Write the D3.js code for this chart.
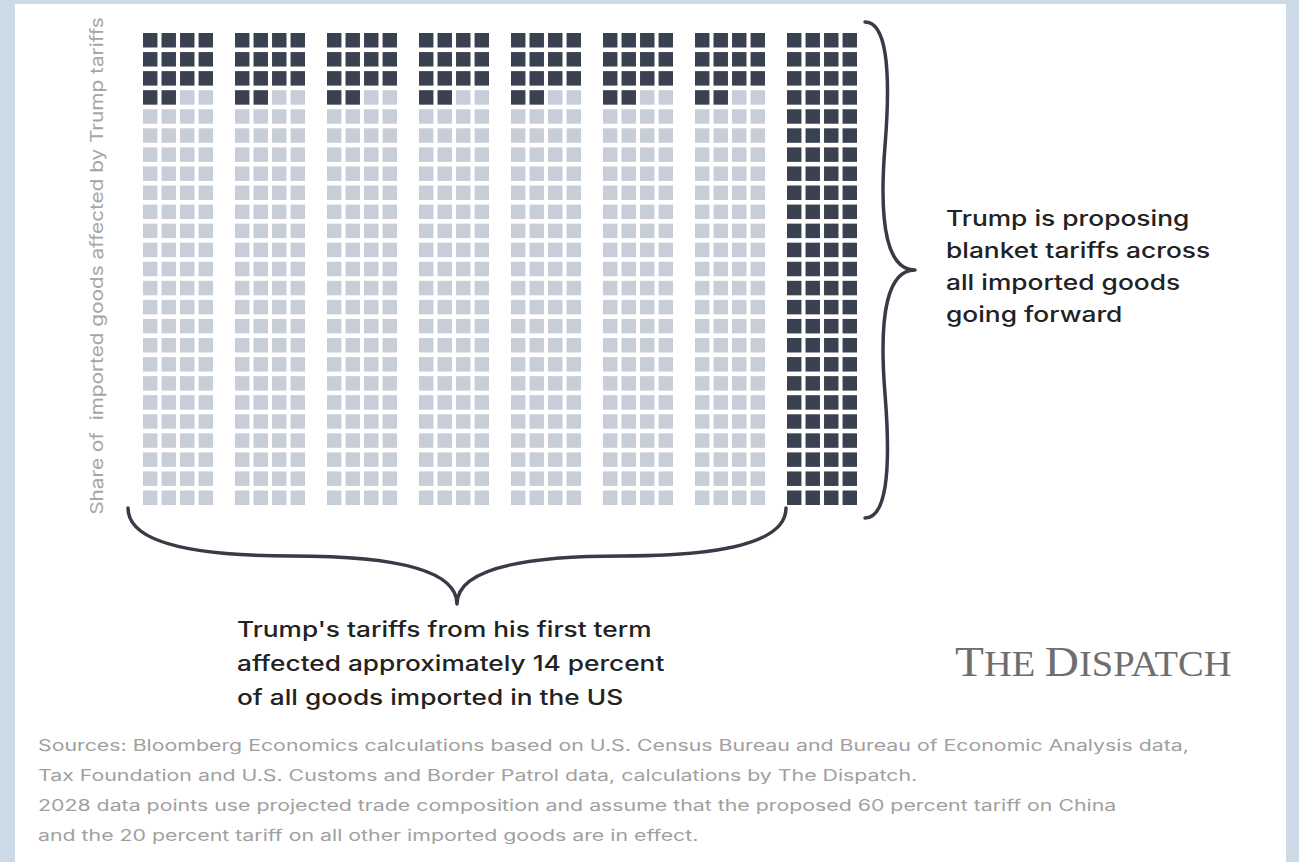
<!DOCTYPE html>
<html>
<head>
<meta charset="utf-8">
<script src="https://cdn.jsdelivr.net/npm/d3@7"></script>
<style>
  html, body { margin: 0; padding: 0; background: #cbdae6; }
  svg { display: block; }
</style>
</head>
<body>
<svg id="chart" width="1299" height="862"></svg>
<script>
// ---- data ----
const categories = ["2018", "2019", "2020", "2021", "2022", "2023", "2024", "2028"];
const affectedShare = [14, 14, 14, 14, 14, 14, 14, 100]; // percent of imported goods
const gridCols = 4;
const gridRows = 25;
const yLabel = "Share of  imported goods affected by Trump tariffs";
const rightNote = ["Trump is proposing", "blanket tariffs across", "all imported goods", "going forward"];
const bottomNote = ["Trump's tariffs from his first term", "affected approximately 14 percent", "of all goods imported in the US"];
const sourceLines = [
  "Sources: Bloomberg Economics calculations based on U.S. Census Bureau and Bureau of Economic Analysis data,",
  "Tax Foundation and U.S. Customs and Border Patrol data, calculations by The Dispatch.",
  "2028 data points use projected trade composition and assume that the proposed 60 percent tariff on China",
  "and the 20 percent tariff on all other imported goods are in effect."
];

const svg = d3.select("#chart");
const W = 1299, H = 862;

// background panel
svg.append("rect").attr("x", 0).attr("y", 0).attr("width", W).attr("height", H).attr("fill", "#cbdae6");
svg.append("rect").attr("x", 15).attr("y", 4).attr("width", 1271).attr("height", H - 4).attr("fill", "#ffffff");

// scales
const xCol = d3.scaleBand().domain(categories).range([143, 857]).paddingInner(22 / 92);
const xCell = d3.scaleBand().domain(d3.range(gridCols)).range([0, xCol.bandwidth()]).paddingInner(0.22);
const yCell = d3.scaleBand().domain(d3.range(gridRows)).range([33, 505]).paddingInner(0.24);

const dark = "#3a4150", light = "#c8ced7";

categories.forEach((c, i) => {
  const cells = d3.range(gridCols * gridRows).map(k => ({
    k, r: Math.floor(k / gridCols), c: k % gridCols, on: k < affectedShare[i]
  }));
  svg.append("g").attr("transform", `translate(${xCol(c)},0)`)
    .selectAll("rect").data(cells).join("rect")
    .attr("x", d => xCell(d.c))
    .attr("y", d => yCell(d.r))
    .attr("width", xCell.bandwidth())
    .attr("height", yCell.bandwidth())
    .attr("fill", d => d.on ? dark : light);
});

// y label
svg.append("text")
  .attr("transform", "translate(103,266) rotate(-90) scale(1.187,1)")
  .attr("text-anchor", "middle")
  .attr("font-family", "Inter, 'Open Sans', sans-serif")
  .attr("font-size", 17.5)
  .attr("fill", "#a6a6a6")
  .attr("xml:space", "preserve")
  .text(yLabel);

// curly brace
function brace(x1, y1, x2, y2, w, q) {
  let dx = x1 - x2, dy = y1 - y2;
  const len = Math.sqrt(dx * dx + dy * dy);
  dx /= len; dy /= len;
  const qx1 = x1 + q * w * dy, qy1 = y1 - q * w * dx;
  const qx2 = (x1 - .25 * len * dx) + (1 - q) * w * dy, qy2 = (y1 - .25 * len * dy) - (1 - q) * w * dx;
  const tx1 = (x1 - .5 * len * dx) + w * dy, ty1 = (y1 - .5 * len * dy) - w * dx;
  const qx3 = x2 + q * w * dy, qy3 = y2 - q * w * dx;
  const qx4 = (x1 - .75 * len * dx) + (1 - q) * w * dy, qy4 = (y1 - .75 * len * dy) - (1 - q) * w * dx;
  return `M${x1},${y1} Q${qx1},${qy1} ${qx2},${qy2} T${tx1},${ty1} M${x2},${y2} Q${qx3},${qy3} ${qx4},${qy4} T${tx1},${ty1}`;
}
svg.append("path").attr("d", brace(128, 508, 786, 508, 96, 0.5))
  .attr("fill", "none").attr("stroke", "#363b46").attr("stroke-width", 3.5).attr("stroke-linecap", "round");
svg.append("path").attr("d", brace(865, 518, 865, 22, 50, 0.6))
  .attr("fill", "none").attr("stroke", "#363b46").attr("stroke-width", 3.5).attr("stroke-linecap", "round");

// annotations (text is horizontally stretched in the reference)
const rt = svg.append("text").attr("transform", "translate(946,0) scale(1.255,1)")
  .attr("font-family", "Inter, sans-serif").attr("font-size", 21)
  .attr("font-weight", 500).attr("fill", "#222");
rightNote.forEach((t, i) => rt.append("tspan").attr("x", 0).attr("y", 226 + i * 32).text(t));

const bt = svg.append("text").attr("transform", "translate(237,0) scale(1.25,1)")
  .attr("font-family", "Inter, sans-serif").attr("font-size", 21)
  .attr("font-weight", 500).attr("fill", "#222");
bottomNote.forEach((t, i) => bt.append("tspan").attr("x", 0).attr("y", 637 + i * 34).text(t));

// logo
const logo = svg.append("text").attr("transform", "translate(955,676) scale(1.1,1)")
  .attr("font-family", "'Liberation Serif', 'DejaVu Serif', serif").attr("fill", "#6e6e6e").attr("font-size", 43);
logo.append("tspan").text("T");
logo.append("tspan").attr("font-size", 35).text("HE ");
logo.append("tspan").text("D");
logo.append("tspan").attr("font-size", 35).text("ISPATCH");

// sources
const st = svg.append("text").attr("transform", "translate(38,0) scale(1.375,1)")
  .attr("font-family", "Inter, sans-serif").attr("font-size", 15.5).attr("fill", "#a0a0a0");
sourceLines.forEach((t, i) => st.append("tspan").attr("x", 0).attr("y", 751 + i * 30).text(t));
</script>
</body>
</html>
